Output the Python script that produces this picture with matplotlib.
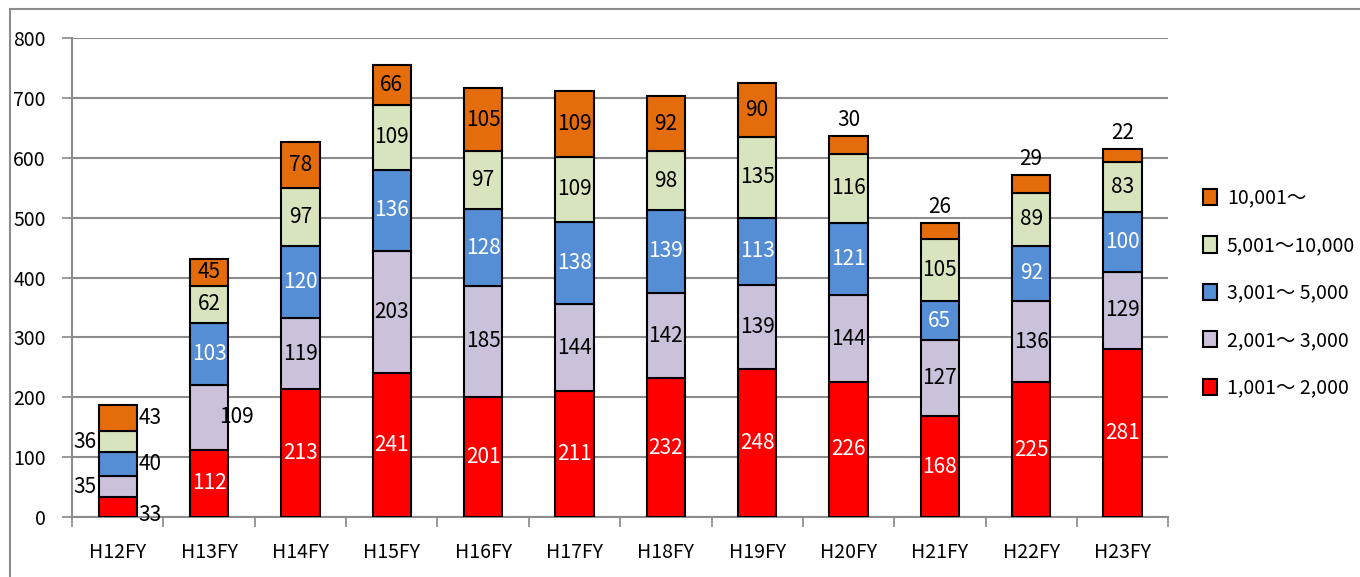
import matplotlib
matplotlib.use("Agg")
import matplotlib.pyplot as plt
from matplotlib.lines import Line2D
import numpy as np

plt.rcParams['font.family'] = ['Noto Sans CJK JP', 'DejaVu Sans']

years = ["H12FY", "H13FY", "H14FY", "H15FY", "H16FY", "H17FY",
         "H18FY", "H19FY", "H20FY", "H21FY", "H22FY", "H23FY"]
s1 = [33, 112, 213, 241, 201, 211, 232, 248, 226, 168, 225, 281]   # 1,001~2,000
s2 = [35, 109, 119, 203, 185, 144, 142, 139, 144, 127, 136, 129]   # 2,001~3,000
s3 = [40, 103, 120, 136, 128, 138, 139, 113, 121, 65, 92, 100]     # 3,001~5,000
s4 = [36, 62, 97, 109, 97, 109, 98, 135, 116, 105, 89, 83]         # 5,001~10,000
s5 = [43, 45, 78, 66, 105, 109, 92, 90, 30, 26, 29, 22]            # 10,001~
names = ["1,001～ 2,000", "2,001～ 3,000", "3,001～ 5,000", "5,001～10,000", "10,001～"]
colors = ['#ff0000', '#ccc1da', '#558ed5', '#d7e4bd', '#e46c0a']
txtcol = ['white', 'black', 'white', 'black', 'black']

series = [s1, s2, s3, s4, s5]
fs = 15

fig = plt.figure(figsize=(13.6, 5.77), dpi=100)
ax = fig.add_axes([0.053, 0.104, 0.806, 0.83])

x = np.arange(len(years))
bottom = np.zeros(len(years))
handles = []
for k in range(5):
    v = np.array(series[k])
    b = ax.bar(x, v, 0.42, bottom=bottom, color=colors[k], edgecolor='black',
               linewidth=1.5, zorder=3)
    handles.append(b)
    for i in range(len(years)):
        yc = bottom[i] + v[i] / 2
        if i == 0:
            # H12FY labels sit outside the bar
            if k % 2 == 0:
                xx, ha = x[i] + 0.23, 'left'
            else:
                xx, ha = x[i] - 0.23, 'right'
            if k == 0:
                yc = bottom[i] + v[i] / 2 - 13
            ax.text(xx, yc, str(v[i]), ha=ha, va='center', fontsize=fs, color='black', zorder=4)
        elif k == 4 and v[i] < 40:
            ax.text(x[i], bottom[i] + v[i] + 8, str(v[i]), ha='center', va='bottom',
                    fontsize=fs, color='black', zorder=4)
        elif i == 1 and k == 1:
            ax.text(x[i] + 0.3, yc, str(v[i]), ha='center', va='center',
                    fontsize=fs, color='black', zorder=4)
        else:
            ax.text(x[i], yc, str(v[i]), ha='center', va='center',
                    fontsize=fs, color=txtcol[k], zorder=4)
    bottom = bottom + v

ax.set_xlim(-0.5, len(years) - 0.5)
ax.set_ylim(0, 800)
ax.set_yticks(range(0, 801, 100))
ax.set_xticks(x)
ax.set_xticklabels(years)
ax.set_xticks(np.arange(-0.5, len(years), 1), minor=True)
ax.tick_params(axis='x', which='major', length=0, pad=18, labelsize=14)
ax.tick_params(axis='x', which='minor', length=7, width=1.2, color='#888888', direction='out')
ax.tick_params(axis='y', length=7, width=1.2, color='#888888', labelsize=14, pad=12)
ax.grid(axis='y', color='#8c8c8c', linewidth=1.5, zorder=0)
for sp in ['top', 'right']:
    ax.spines[sp].set_visible(False)
ax.spines['left'].set_color('#8c8c8c')
ax.spines['left'].set_linewidth(1.5)
ax.spines['bottom'].set_color('#8c8c8c')
ax.spines['bottom'].set_linewidth(1.5)

leg = fig.legend(handles[::-1], names[::-1], loc='upper left', bbox_to_anchor=(0.872, 0.705),
                 frameon=False, fontsize=14, handlelength=0.7, handleheight=0.9,
                 labelspacing=1.36, handletextpad=0.5)

# outer frame (top and left)
fig.add_artist(Line2D([0.0075, 1.0], [0.985, 0.985], transform=fig.transFigure, color='#8c8c8c', linewidth=1.5))
fig.add_artist(Line2D([0.0075, 0.0075], [0.0, 0.985], transform=fig.transFigure, color='#8c8c8c', linewidth=1.5))

fig.savefig("out.png", dpi=100)
